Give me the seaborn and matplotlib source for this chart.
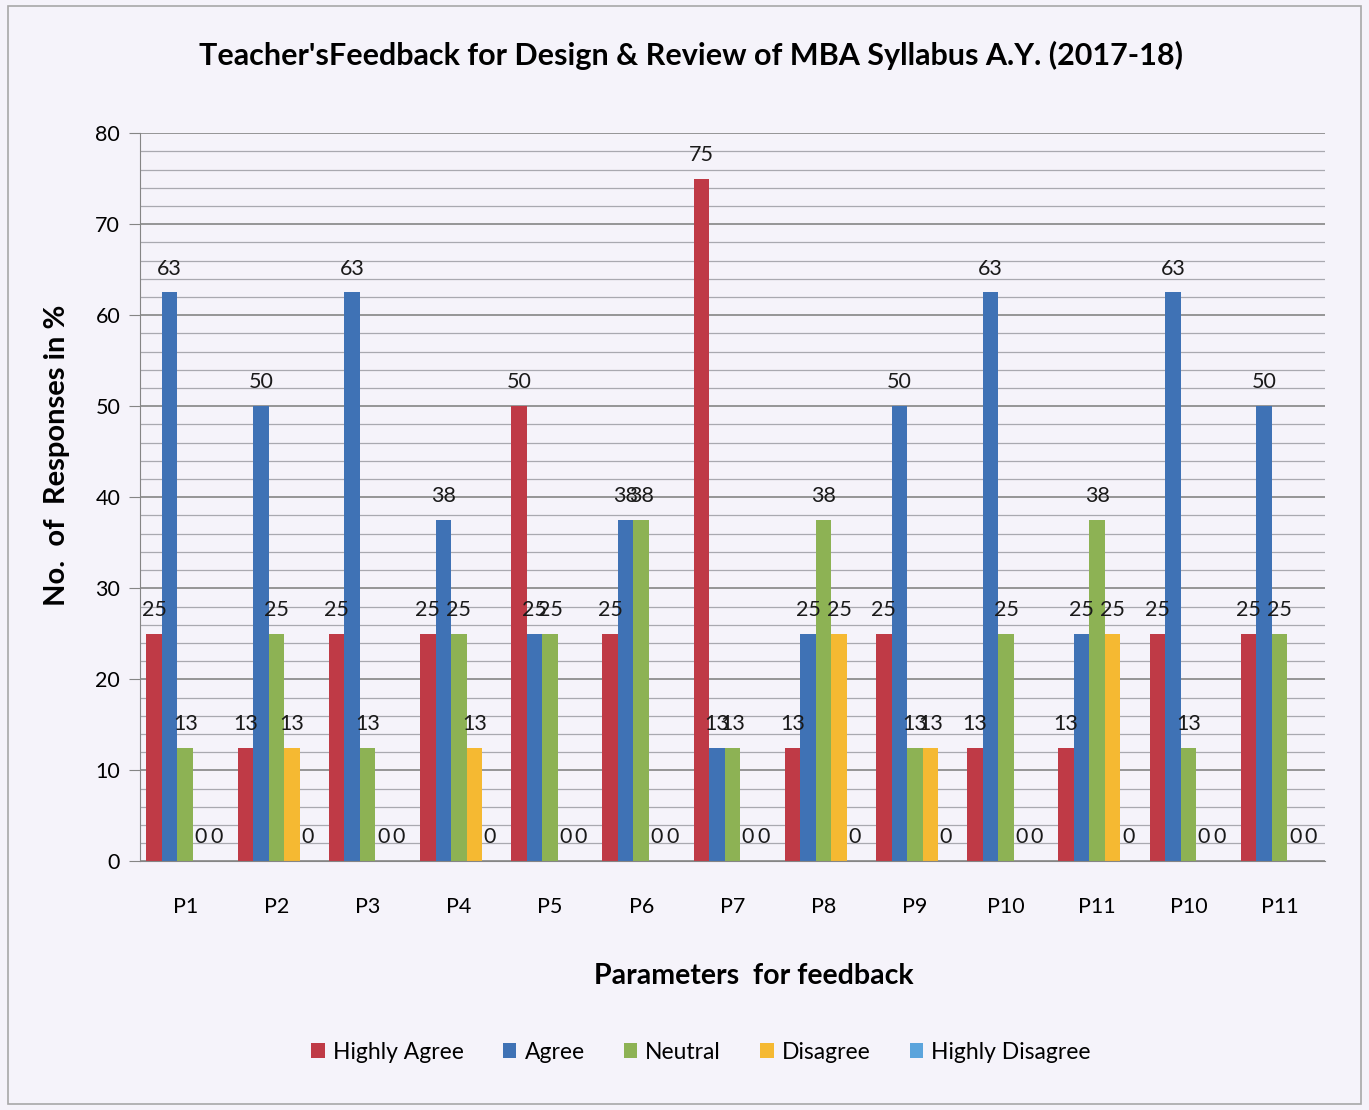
import matplotlib.pyplot as plt
import matplotlib.patches as mpatches
import pandas as pd
import seaborn as sns

# parameters (the original repeats P10 and P11 at the end)
params = ["P1", "P2", "P3", "P4", "P5", "P6", "P7", "P8", "P9", "P10", "P11", "P10", "P11"]
series = ["Highly Agree", "Agree", "Neutral", "Disagree", "Highly Disagree"]

highly_agree = [25, 12.5, 25, 25, 50, 25, 75, 12.5, 25, 12.5, 12.5, 25, 25]
agree = [62.5, 50, 62.5, 37.5, 25, 37.5, 12.5, 25, 50, 62.5, 25, 62.5, 50]
neutral = [12.5, 25, 12.5, 25, 25, 37.5, 12.5, 37.5, 12.5, 25, 37.5, 12.5, 25]
disagree = [0, 12.5, 0, 12.5, 0, 0, 0, 25, 12.5, 0, 25, 0, 0]
highly_disagree = [0, 0, 0, 0, 0, 0, 0, 0, 0, 0, 0, 0, 0]

colors = ["#bf3a46", "#3f72b5", "#8db254", "#f5b932", "#5ba4dc"]
paper = "#f5f3fa"

rows = []
for name, vals in zip(series, [highly_agree, agree, neutral, disagree, highly_disagree]):
    for i, v in enumerate(vals):
        rows.append({"slot": i, "Response": name, "value": v})
df = pd.DataFrame(rows)

fig = plt.figure(figsize=(13.69, 11.10), dpi=100, facecolor=paper)
ax = fig.add_axes([0.102, 0.224, 0.866, 0.656])
ax.set_facecolor(paper)

sns.barplot(
    data=df,
    x="slot",
    y="value",
    hue="Response",
    hue_order=series,
    palette=colors,
    width=0.85,
    gap=0,
    saturation=1,
    errorbar=None,
    ax=ax
)

for cont in ax.containers:
    labels = [str(int(b.get_height() + 0.5)) for b in cont]
    ax.bar_label(cont, labels=labels, padding=10, fontsize=15.5,
                 family="Lato", color="#1a1a1a")

ax.set_ylim(0, 80)
ax.set_xlim(-0.5, 12.5)
ax.set_yticks(range(0, 81, 10))
ax.set_yticks(range(0, 81, 2), minor=True)
ax.grid(axis="y", which="major", color="#858585", linewidth=1.2)
ax.grid(axis="y", which="minor", color="#a9a9b0", linewidth=0.9)
ax.grid(axis="x", visible=False)
ax.set_axisbelow(True)

ax.set_xticks(range(len(params)))
ax.set_xticklabels(params)
ax.tick_params(axis="x", length=0, pad=26, labelsize=15.5)
ax.tick_params(axis="y", which="major", length=8, color="#858585", labelsize=15.5, pad=6)
ax.tick_params(axis="y", which="minor", length=0)
for lab in ax.get_xticklabels() + ax.get_yticklabels():
    lab.set_family("Lato")

for s in ["top", "right"]:
    ax.spines[s].set_visible(False)
ax.spines["left"].set_color("#858585")
ax.spines["bottom"].set_color("#858585")

ax.set_xlabel("Parameters  for feedback", fontsize=20.5, fontweight="bold", family="Lato")
ax.xaxis.set_label_coords(0.518, -0.139)
ax.set_ylabel("No.  of  Responses in %", fontsize=21, fontweight="bold", family="Lato")
ax.yaxis.set_label_coords(-0.059, 0.557)

fig.text(0.505, 0.950, "Teacher'sFeedback for Design & Review of MBA Syllabus A.Y. (2017-18)",
         ha="center", va="center", fontsize=22, fontweight="bold", family="Lato")

handles, labels = ax.get_legend_handles_labels()
ax.get_legend().remove()
fig.legend(handles, labels, loc="center", bbox_to_anchor=(0.512, 0.052), ncol=5,
           frameon=False, handlelength=0.6, handleheight=0.6, handletextpad=0.35,
           columnspacing=1.7, prop={"family": "Lato", "size": 16.5})

fig.patches.append(mpatches.Rectangle((0.006, 0.005), 0.988, 0.99, transform=fig.transFigure,
                                      fill=False, edgecolor="#a8a8a8", linewidth=1.2))

fig.savefig("out.png", dpi=100, facecolor=paper)
